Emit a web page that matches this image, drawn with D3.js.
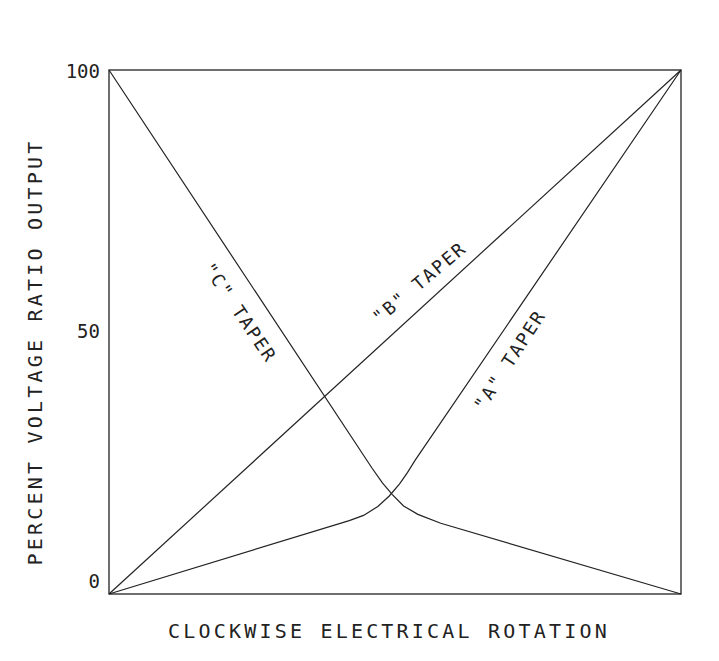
<!DOCTYPE html>
<html><head><meta charset="utf-8">
<script src="https://cdn.jsdelivr.net/npm/d3@7"></script>
<style>body{margin:0;background:#fff}text{font-family:"DejaVu Sans Mono",monospace;fill:#222}</style>
</head><body><svg width="719" height="661"></svg>
<script>
const taperA = [[0,0],[0.42,0.14],[0.445,0.15],[0.47,0.167],[0.49,0.187],[0.508,0.21],[0.522,0.232],[0.535,0.255],[1,1]];
const taperB = [[0,0],[1,1]];
const taperC = [[0,1],[0.46,0.24],[0.478,0.212],[0.495,0.19],[0.515,0.168],[0.54,0.152],[0.58,0.135],[1,0]];
const yTicks = [0, 50, 100];
const labels = [
  {text: '"C" TAPER', x: 0.22, y: 0.53, angle: 56},
  {text: '"B" TAPER', x: 0.55, y: 0.585, angle: -40},
  {text: '"A" TAPER', x: 0.71, y: 0.44, angle: -57}
];

const svg = d3.select("svg");
const margin = {top: 70, right: 38, bottom: 67, left: 109},
      width = 719 - margin.left - margin.right,
      height = 661 - margin.top - margin.bottom;
const g = svg.append("g").attr("transform", `translate(${margin.left},${margin.top})`);

const x = d3.scaleLinear().domain([0, 1]).range([0, width]);
const y = d3.scaleLinear().domain([0, 1]).range([height, 0]);
const yv = d3.scaleLinear().domain([0, 100]).range([height, 0]);

g.append("rect").attr("width", width).attr("height", height)
  .attr("fill", "none").attr("stroke", "#222").attr("stroke-width", 1.3);

const line = d3.line().x(d => x(d[0])).y(d => y(d[1]));
[taperA, taperB, taperC].forEach(d => {
  g.append("path").attr("d", line(d)).attr("fill", "none")
    .attr("stroke", "#222").attr("stroke-width", 1.2);
});

g.selectAll(".tick").data(yTicks).enter().append("text")
  .attr("x", -9).attr("y", d => yv(d) + (d === 100 ? 8 : d === 0 ? -6 : 6))
  .attr("text-anchor", "end").attr("font-size", 19).text(d => d);

labels.forEach(l => {
  g.append("text").attr("transform", `translate(${x(l.x)},${y(l.y)}) rotate(${l.angle})`)
    .attr("text-anchor", "middle").attr("font-size", 18).attr("letter-spacing", 2).text(l.text);
});

svg.append("text").attr("x", margin.left + width / 2 - 6).attr("y", 638)
  .attr("text-anchor", "middle").attr("font-size", 20).attr("letter-spacing", 3.2)
  .text("CLOCKWISE ELECTRICAL ROTATION");
svg.append("text").attr("transform", `translate(42,${margin.top + height / 2 + 20}) rotate(-90)`)
  .attr("text-anchor", "middle").attr("font-size", 20).attr("letter-spacing", 3.2)
  .text("PERCENT VOLTAGE RATIO OUTPUT");
</script></body></html>
